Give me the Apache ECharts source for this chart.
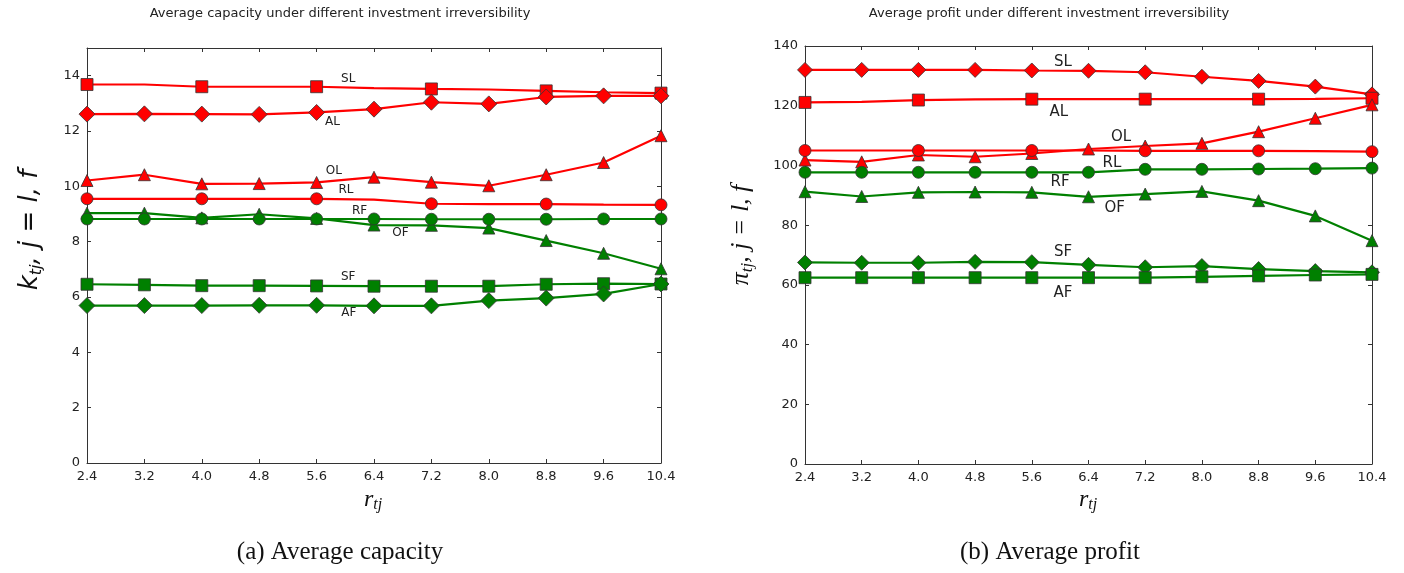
<!DOCTYPE html>
<html>
<head>
<meta charset="utf-8">
<script src="https://cdn.jsdelivr.net/npm/echarts@6/dist/echarts.min.js"></script>
<style>html,body{margin:0;padding:0;background:#fff}#c{width:1404px;height:573px}</style>
</head>
<body>
<div id="c"></div>
<script>
// ---------- data ----------
const xs = [2.4, 3.2, 4.0, 4.8, 5.6, 6.4, 7.2, 8.0, 8.8, 9.6, 10.4];
const xTicks = ['2.4','3.2','4.0','4.8','5.6','6.4','7.2','8.0','8.8','9.6','10.4'];

// (a) Average capacity
const capSL = [13.68, 13.68, 13.60, 13.60, 13.60, 13.55, 13.52, 13.50, 13.45, 13.40, 13.37];
const capAL = [12.61, 12.62, 12.61, 12.60, 12.67, 12.79, 13.04, 12.98, 13.23, 13.27, 13.27];
const capOL = [10.21, 10.42, 10.09, 10.10, 10.14, 10.33, 10.15, 10.02, 10.42, 10.86, 11.83];
const capRL = [9.55, 9.55, 9.55, 9.55, 9.55, 9.52, 9.37, 9.36, 9.36, 9.34, 9.33];
const capRF = [8.82, 8.82, 8.82, 8.82, 8.82, 8.82, 8.81, 8.81, 8.81, 8.82, 8.82];
const capOF = [9.03, 9.03, 8.86, 8.99, 8.84, 8.60, 8.59, 8.49, 8.04, 7.58, 7.02];
const capSF = [6.46, 6.44, 6.41, 6.41, 6.40, 6.39, 6.39, 6.39, 6.46, 6.48, 6.47];
const capAF = [5.69, 5.69, 5.69, 5.70, 5.70, 5.68, 5.68, 5.87, 5.96, 6.11, 6.47];

// (b) Average profit
const proSL = [132.0, 132.0, 132.0, 132.0, 131.8, 131.7, 131.2, 129.7, 128.3, 126.4, 123.8];
const proAL = [121.1, 121.3, 121.9, 122.1, 122.2, 122.2, 122.2, 122.2, 122.2, 122.3, 122.5];
const proOL = [101.8, 101.2, 103.5, 102.9, 104.0, 105.5, 106.5, 107.4, 111.3, 115.8, 120.3];
const proRL = [105.0, 105.0, 105.0, 105.0, 105.0, 105.0, 104.9, 104.9, 104.9, 104.8, 104.6];
const proRF = [97.7, 97.7, 97.7, 97.7, 97.7, 97.7, 98.7, 98.7, 98.8, 98.9, 99.1];
const proOF = [91.2, 89.6, 91.0, 91.1, 91.0, 89.5, 90.4, 91.3, 88.2, 83.1, 74.8];
const proSF = [67.5, 67.4, 67.4, 67.7, 67.6, 66.7, 65.9, 66.3, 65.3, 64.6, 64.2];
const proAF = [62.4, 62.4, 62.4, 62.4, 62.4, 62.4, 62.4, 62.7, 63.0, 63.3, 63.5];

// in-plot curve labels [name, x, y]
const capLabels = [['SL',6.04,13.89],['AL',5.82,12.33],['OL',5.84,10.56],['RL',6.01,9.87],
                   ['RF',6.20,9.11],['OF',6.77,8.32],['SF',6.04,6.73],['AF',6.05,5.42]];
const proLabels = [['SL',6.04,134.6],['AL',5.98,117.9],['OL',6.86,109.5],['RL',6.73,100.8],
                   ['RF',6.00,94.4],['OF',6.77,85.6],['SF',6.04,71.0],['AF',6.04,57.2]];

// ---------- styling / build ----------
const RED = '#ff0000', GREEN = '#008000';
function pairs(v){ return xs.map((x,i)=>[x, v[i]]); }
function mkLine(name, vals, color, sym, size, every, gi){
  return {
    type:'line', name, data: pairs(vals), xAxisIndex: gi, yAxisIndex: gi,
    showAllSymbol: true, clip: true,
    symbol: every ? (v,p)=> (p.dataIndex % 2 === 0 ? sym : 'none') : sym,
    symbolSize: size,
    lineStyle:{color, width:2.2},
    itemStyle:{color, borderColor:'#333', borderWidth:0.8},
    emphasis:{disabled:true}, animation:false
  };
}
function mkLabels(list, gi, fs){
  return {
    type:'scatter', xAxisIndex: gi, yAxisIndex: gi, silent:true, animation:false,
    symbolSize: 2, itemStyle:{color:'rgba(0,0,0,0)'}, z:5,
    data: list.map(l=>({name:l[0], value:[l[1], l[2]]})),
    label:{show:true, position:'inside', formatter:'{b}', color:'#222', opacity:1,
           fontFamily:'DejaVu Sans', fontSize: fs}
  };
}
const axisLineStyle = {lineStyle:{color:'#333', width:1}};
const tickStyle = {inside:true, length:4, lineStyle:{color:'#333'}};
const lblStyle = {color:'#222', fontFamily:'DejaVu Sans', fontSize:13};

function xAx(gi, top){
  return {type:'value', gridIndex: gi, min:2.4, max:10.4, interval:0.8,
    position: top ? 'top':'bottom', splitLine:{show:false},
    axisLine:Object.assign({show:true, onZero:false}, axisLineStyle), axisTick:tickStyle,
    axisLabel: top ? {show:false} : Object.assign({margin:7, formatter:(v)=>{
      const i = Math.round((v-2.4)/0.8); return xTicks[i] !== undefined ? xTicks[i] : ''; }}, lblStyle)};
}
function yAx(gi, max, interval, right, hideMax){
  return {type:'value', gridIndex: gi, min:0, max, interval,
    position: right ? 'right':'left', splitLine:{show:false},
    axisLine:Object.assign({show:true, onZero:false}, axisLineStyle), axisTick:tickStyle,
    axisLabel: right ? {show:false} : Object.assign({margin:7, showMaxLabel: !hideMax}, lblStyle)};
}

const option = {
  backgroundColor:'#fff',
  animation:false,
  grid:[
    {left:87, top:48, width:574, height:415},
    {left:805, top:46, width:567, height:418}
  ],
  xAxis:[ xAx(0,false), xAx(1,false), xAx(0,true), xAx(1,true) ],
  yAxis:[ yAx(0,15,2,false,true), yAx(1,140,20,false,false), yAx(0,15,2,true,true), yAx(1,140,20,true,false) ],
  series:[
    mkLine('SL', capSL, RED, 'rect', 12, true, 0),
    mkLine('AL', capAL, RED, 'diamond', 16, false, 0),
    mkLine('OL', capOL, RED, 'triangle', 12, false, 0),
    mkLine('RL', capRL, RED, 'circle', 12, true, 0),
    mkLine('OF', capOF, GREEN, 'triangle', 12, false, 0),
    mkLine('RF', capRF, GREEN, 'circle', 12, false, 0),
    mkLine('SF', capSF, GREEN, 'rect', 12, false, 0),
    mkLine('AF', capAF, GREEN, 'diamond', 16, false, 0),
    mkLabels(capLabels, 0, 12),

    mkLine('SL', proSL, RED, 'diamond', 15, false, 1),
    mkLine('AL', proAL, RED, 'rect', 12, true, 1),
    mkLine('OL', proOL, RED, 'triangle', 12, false, 1),
    mkLine('RL', proRL, RED, 'circle', 12, true, 1),
    mkLine('RF', proRF, GREEN, 'circle', 12, false, 1),
    mkLine('OF', proOF, GREEN, 'triangle', 12, false, 1),
    mkLine('SF', proSF, GREEN, 'diamond', 15, false, 1),
    mkLine('AF', proAF, GREEN, 'rect', 12, false, 1),
    mkLabels(proLabels, 1, 15)
  ],
  graphic:[
    {type:'text', x:340, y:14, style:{text:'Average capacity under different investment irreversibility',
      fill:'#222', font:'13px "DejaVu Sans"', align:'center', verticalAlign:'middle'}},
    {type:'text', x:1049, y:14, style:{text:'Average profit under different investment irreversibility',
      fill:'#222', font:'13px "DejaVu Sans"', align:'center', verticalAlign:'middle'}},
    {type:'text', x:340, y:552, style:{text:'(a) Average capacity',
      fill:'#111', font:'25px "Liberation Serif"', align:'center', verticalAlign:'middle'}},
    {type:'text', x:1050, y:552, style:{text:'(b) Average profit',
      fill:'#111', font:'25px "Liberation Serif"', align:'center', verticalAlign:'middle'}},
    {type:'text', x:30, y:230, rotation:Math.PI/2, style:{
      text:'{m|k}{s|tj}{m|, j = l, f}', align:'center', verticalAlign:'middle', fill:'#111',
      rich:{ m:{fontFamily:'DejaVu Sans', fontStyle:'italic', fontSize:26, lineHeight:30, fill:'#111'},
             s:{fontFamily:'DejaVu Sans', fontStyle:'italic', fontSize:16, lineHeight:14, verticalAlign:'bottom', fill:'#111'} }}},
    {type:'text', x:741, y:235, rotation:Math.PI/2, style:{
      text:'{m|\u03c0}{s|tj}{m|, j = l, f}', align:'center', verticalAlign:'middle', fill:'#111',
      rich:{ m:{fontFamily:'Liberation Serif', fontStyle:'italic', fontSize:26, lineHeight:30, fill:'#111'},
             s:{fontFamily:'Liberation Serif', fontStyle:'italic', fontSize:17, lineHeight:14, verticalAlign:'bottom', fill:'#111'} }}},
    {type:'text', x:373, y:500, style:{
      text:'{m|r}{s|tj}', align:'center', verticalAlign:'middle', fill:'#111',
      rich:{ m:{fontFamily:'Liberation Serif', fontStyle:'italic', fontSize:24, lineHeight:26, fill:'#111'},
             s:{fontFamily:'Liberation Serif', fontStyle:'italic', fontSize:16, lineHeight:12, verticalAlign:'bottom', fill:'#111'} }}},
    {type:'text', x:1088, y:500, style:{
      text:'{m|r}{s|tj}', align:'center', verticalAlign:'middle', fill:'#111',
      rich:{ m:{fontFamily:'Liberation Serif', fontStyle:'italic', fontSize:24, lineHeight:26, fill:'#111'},
             s:{fontFamily:'Liberation Serif', fontStyle:'italic', fontSize:16, lineHeight:12, verticalAlign:'bottom', fill:'#111'} }}}
  ]
};
const chart = echarts.init(document.getElementById('c'), null, {renderer:'canvas'});
chart.setOption(option);
</script>
</body>
</html>
